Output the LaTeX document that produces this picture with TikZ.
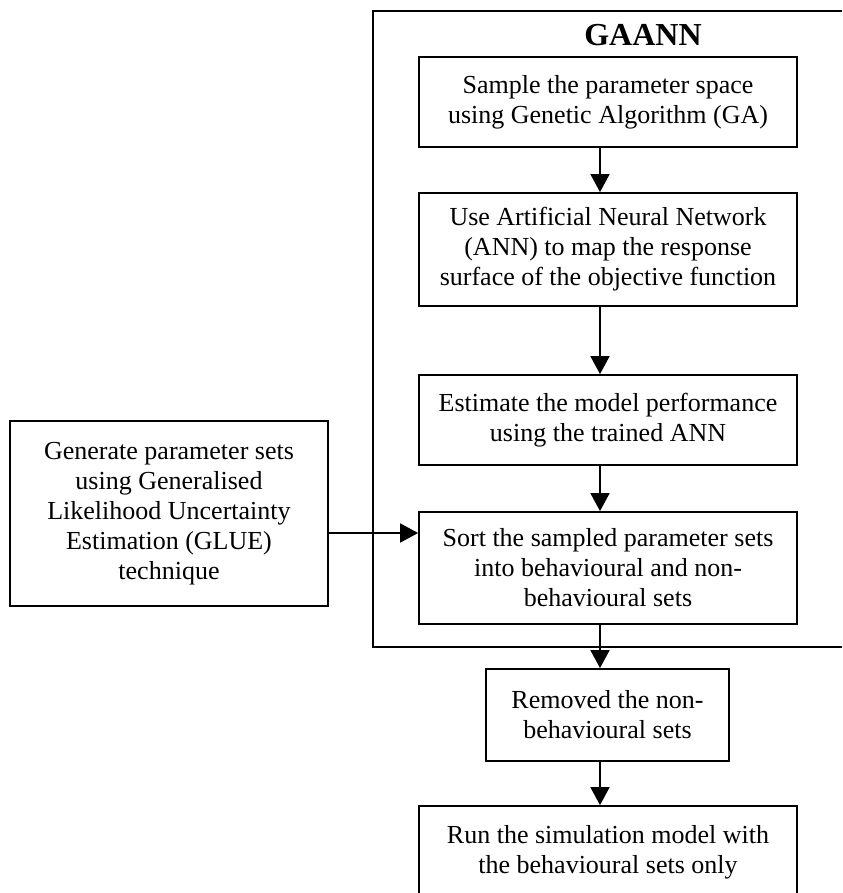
\documentclass[tikz,border=0pt]{standalone}
\usepackage{fontspec}
\setmainfont{Liberation Serif}
\usetikzlibrary{arrows.meta, positioning, calc}

\begin{document}
\begin{tikzpicture}[
			x=0.5pt, y=-0.5pt,
			box/.style={rectangle, draw, line width=0.9pt, inner sep=0pt, minimum width=189pt, align=center, font=\fontsize{13}{15}\selectfont},
			flow/.style={-{Triangle[length=9pt, width=9.5pt]}, line width=0.9pt},
			>=latex
			]
			\useasboundingbox (0,0) rectangle (842,893);
			
			% GAANN frame, open to the right
			\draw[line width=0.9pt] (842,11) -- (373,11) -- (373,647) -- (842,647);
			\node[font=\fontsize{16}{18}\selectfont\bfseries] (gaann) at (643,35) {GAANN};
			
			\node[box, minimum height=45pt] (sample) at (608,102) {Sample the parameter space\\ using Genetic Algorithm (GA)};
			\node[box, minimum height=56.5pt] (ann) at (608,249.5) {Use Artificial Neural Network\\ (ANN) to map the response\\ surface of the objective function};
			\node[box, minimum height=45pt] (estimate) at (608,420) {Estimate the model performance\\ using the trained ANN};
			\node[box, minimum height=56pt] (sort) at (608,568) {Sort the sampled parameter sets\\ into behavioural and non-\\ behavioural sets};
			\node[box, minimum width=159pt, minimum height=92.5pt] (glue) at (169,513.5) {Generate parameter sets\\ using Generalised\\ Likelihood Uncertainty\\ Estimation (GLUE)\\ technique};
			\node[box, minimum width=121.5pt, minimum height=46pt] (removed) at (607.5,715) {Removed the non-\\ behavioural sets};
			\node[box, minimum height=46pt] (run) at (608,852) {Run the simulation model with\\ the behavioural sets only};
			
			\coordinate (ax) at (600,0);
			\coordinate (gy) at (0,533);
			\draw[flow] (sample.south -| ax) -- (ann.north -| ax);
			\draw[flow] (ann.south -| ax) -- (estimate.north -| ax);
			\draw[flow] (estimate.south -| ax) -- (sort.north -| ax);
			\draw[flow] (sort.south -| ax) -- (removed.north -| ax);
			\draw[flow] (removed.south -| ax) -- (run.north -| ax);
			\draw[flow] (glue.east |- gy) -- (sort.west |- gy);
		\end{tikzpicture}
\end{document}
